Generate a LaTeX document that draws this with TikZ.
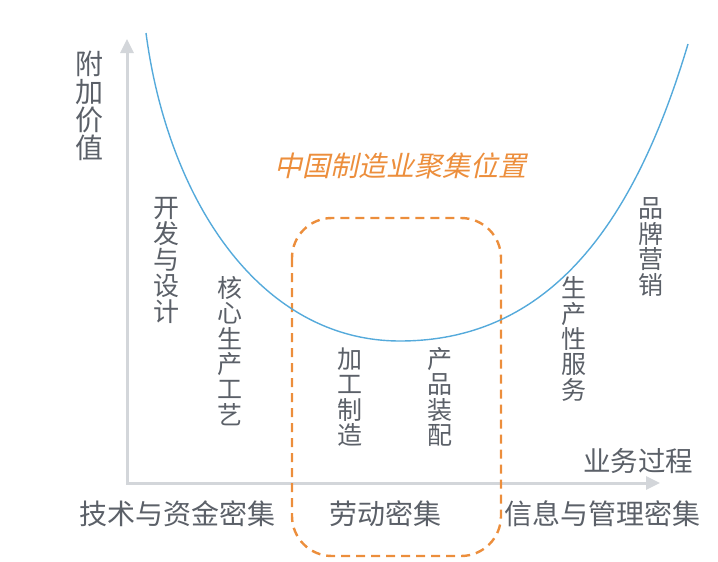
\documentclass[tikz,border=0pt]{standalone}
\usepackage{fontspec}
\setmainfont{Noto Sans CJK SC}
\newfontfamily\cjkslanted[FakeSlant=0.22]{Noto Sans CJK SC}
\usetikzlibrary{arrows.meta}
\definecolor{axisgray}{HTML}{D3D6DA}
\definecolor{textgray}{HTML}{5B6068}
\definecolor{curveblue}{HTML}{55AADB}
\definecolor{accent}{HTML}{EC8E3C}
\tikzset{
  axisline/.style={draw=axisgray, line width=3pt,
    {Triangle[length=14pt,width=13pt]}-{Triangle[length=14pt,width=13pt]}},
  valuecurve/.style={draw=curveblue, line width=1.4pt},
  zonebox/.style={draw=accent, line width=2.4pt, dash pattern=on 9pt off 6pt,
    rounded corners=40pt},
  vlabel/.style={text=textgray, inner sep=0pt, align=center,
    font=\fontsize{25}{25.4}\selectfont},
  hlabel/.style={text=textgray, inner sep=0pt,
    font=\fontsize{28}{30}\selectfont},
  titlelabel/.style={text=accent, inner sep=0pt,
    font=\cjkslanted\fontsize{28}{30}\selectfont}
}
\begin{document}
\begin{tikzpicture}[x=1pt,y=-1pt]
\useasboundingbox (0,0) rectangle (718,562);

% axes
\coordinate (origin) at (127,483);
\coordinate (ytip) at (127,39);
\coordinate (xtip) at (660,483);
\draw[axisline] (ytip) |- (xtip);

% labour-intensive zone
\draw[zonebox] (292,218) rectangle (501,556);

% smile curve: two cubic arcs meeting at the lowest point
\coordinate (cstart) at (146,33);
\coordinate (cmin) at (400,341);
\coordinate (cend) at (688,44);
\draw[valuecurve] (cstart) .. controls (168,200) and (260,341) .. (cmin)
  .. controls (559,341) and (639,208) .. (cend);

% axis labels
\node[vlabel, font=\fontsize{28}{28}\selectfont] (ylab) at (89,106) {附\\加\\价\\值};
\node[hlabel, font=\fontsize{27.5}{30}\selectfont] (xlab) at (638,461) {业务过程};

% title
\node[titlelabel] (title) at (400,166) {中国制造业聚集位置};

% stages along the chain
\node[vlabel, font=\fontsize{26}{26}\selectfont] (design) at (166,260) {开\\发\\与\\设\\计};
\node[vlabel] (core) at (230,351) {核\\心\\生\\产\\工\\艺};
\node[vlabel] (process) at (350,397) {加\\工\\制\\造};
\node[vlabel] (assembly) at (440,397) {产\\品\\装\\配};
\node[vlabel] (service) at (574,339) {生\\产\\性\\服\\务};
\node[vlabel] (brand) at (651,247) {品\\牌\\营\\销};

% intensity categories
\node[hlabel] (tech) at (177,514) {技术与资金密集};
\node[hlabel] (labour) at (385,514) {劳动密集};
\node[hlabel] (info) at (602,514) {信息与管理密集};
\end{tikzpicture}
\end{document}
